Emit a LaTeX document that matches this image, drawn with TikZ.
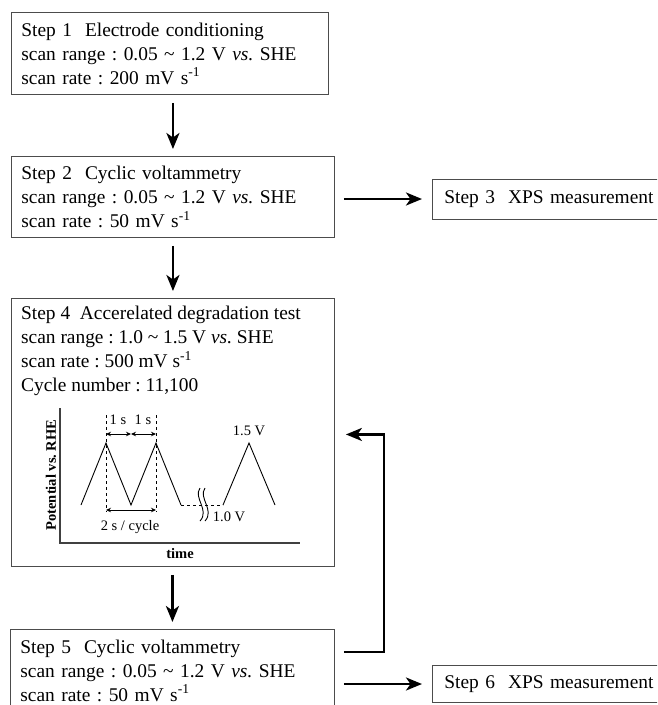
\documentclass[tikz,border=0pt]{standalone}
\usepackage{fontspec}
\setmainfont{Liberation Serif}
\usetikzlibrary{arrows.meta,calc,positioning}
\tikzset{every picture/.style={/utils/exec={\fontsize{19.4}{24}\selectfont\frenchspacing}}}
\tikzset{stepbox/.style={draw=black!70,line width=0.9pt,anchor=north west,align=left,inner xsep=10pt}}
\tikzset{xpsbox/.style={draw=black!70,line width=0.9pt,anchor=west,align=left,inner xsep=12pt,text width=236pt}}
\tikzset{flow/.style={-{Stealth[length=16pt,width=13pt,inset=4.5pt]},line width=2.6pt}}
\tikzset{dim/.style={{Stealth[length=5pt,width=4.5pt]}-{Stealth[length=5pt,width=4.5pt]},line width=0.9pt}}
\tikzset{small/.style={font=\fontsize{14.5}{16}\selectfont,inner sep=1pt}}

\newcommand{\vsshe}{\textit{vs.} SHE}
\newcommand{\rateunit}{mV s\textsuperscript{-1}}

\begin{document}
\begin{tikzpicture}[x=1pt,y=-1pt]
    \clip (0,0) rectangle (657,705);
    % main steps
    \node [stepbox,minimum width=317pt,minimum height=82pt,text width=297pt] (s1) at (11,12)
        {Step 1~~Electrode conditioning\\scan range : 0.05 \textasciitilde{} 1.2 V \vsshe\\scan rate : 200 \rateunit};
    \node [stepbox,minimum width=323pt,minimum height=81pt,text width=303pt] (s2) at (11,156)
        {Step 2~~Cyclic voltammetry\\scan range : 0.05 \textasciitilde{} 1.2 V \vsshe\\scan rate : 50 \rateunit};
    \node [stepbox,minimum width=323pt,minimum height=268pt] (s4) at (11,298) {};
    \node [anchor=north west,align=left,inner xsep=10pt,inner ysep=8pt] (s4txt) at (s4.north west)
        {Step 4~~Accerelated degradation test\\scan range : 1.0 \textasciitilde{} 1.5 V \vsshe\\scan rate : 500 \rateunit\\Cycle number : 11,100};
    \node [stepbox,minimum width=324pt,minimum height=82pt,text width=304pt] (s5) at (10,629)
        {Step 5~~Cyclic voltammetry\\scan range : 0.05 \textasciitilde{} 1.2 V \vsshe\\scan rate : 50 \rateunit};
    \node [xpsbox,minimum height=40pt] (x3) at (432,199) {Step 3~~XPS measurement};
    \node [xpsbox,minimum height=37pt] (x6) at (432,684) {Step 6~~XPS measurement};
    % arrows
    \draw [flow,shorten <=8pt,shorten >=7pt] (s1.south -| s2.north) -- (s2.north);
    \draw [flow,shorten <=8pt,shorten >=7pt] (s2.south -| s4.north) -- (s4.north);
    \draw [flow,shorten <=8pt,shorten >=7pt] (s4.south -| s5.north) -- (s5.north);
    \draw [flow,shorten <=9pt,shorten >=10pt] (s2.east |- x3.west) -- (x3.west);
    \draw [flow,shorten <=9pt,shorten >=10pt] (s5.east |- x6.west) -- (x6.west);
    \draw [flow] ($(s5.north east)+(9,23)$) -| ($(s4.east)+(49,2)$) -- ($(s4.east)+(11,2)$);
    % potential profile
    \draw [line width=1.3pt,black!75] (60,408) -- (60,543) -- (300,543);
    \draw [line width=0.9pt] (81,505) -- (106,443) -- (131,505) -- (156,443) -- (181,505)
        (223,505) -- (249,443) -- (275,505);
    \draw [line width=0.9pt,dashed] (181,505) -- (223,505)
        (106,415) -- (106,512) (156,415) -- (156,512);
    \draw [line width=0.9pt] (200,488) .. controls (193,498) and (210,510) .. (200,521)
        (205,488) .. controls (198,498) and (215,510) .. (205,521);
    \draw [dim] (106,434) -- (131,434);
    \draw [dim] (131,434) -- (156,434);
    \draw [dim] (106,510) -- (156,510);
    \node [small] (t1) at (118,420) {1 s};
    \node [small] (t2) at (143,420) {1 s};
    \node [small] (tc) at (130,527) {2 s / cycle};
    \node [small] (vhi) at (249,431) {1.5 V};
    \node [small] (vlo) at (229,517) {1.0 V};
    \node [small,font=\fontsize{14.5}{16}\selectfont\bfseries,rotate=90] (ylab) at (51,475) {Potential vs. RHE};
    \node [small,font=\fontsize{14.5}{16}\selectfont\bfseries] (xlab) at (180,554) {time};
\end{tikzpicture}
\end{document}
